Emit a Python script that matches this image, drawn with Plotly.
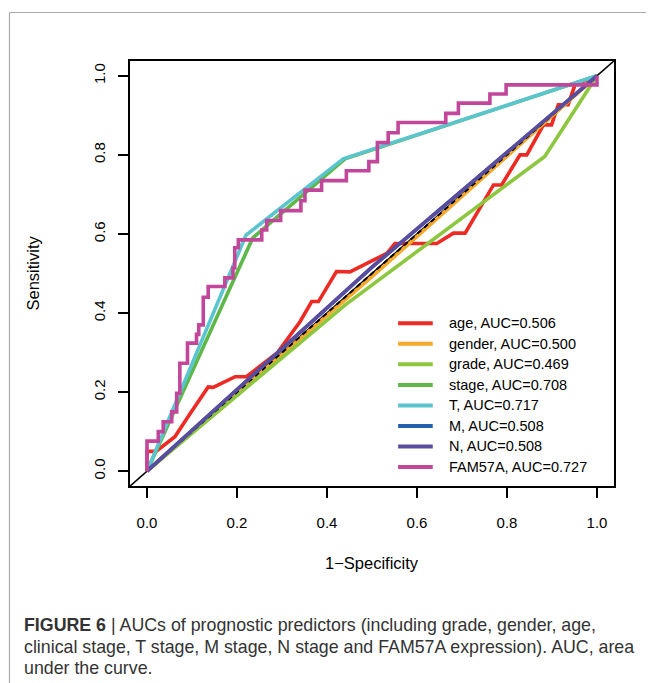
import plotly.graph_objects as go

# ---------------- data (1-specificity, sensitivity) ----------------
names = ["age", "gender", "grade", "stage", "T", "M", "N", "FAM57A"]
aucs = [0.506, 0.500, 0.469, 0.708, 0.717, 0.508, 0.508, 0.727]
colors = ["#EE2A24", "#F5A82A", "#8DC63F", "#5DB848", "#5BC5CF", "#2460AB", "#5A4C9E", "#C2479B"]

age_x = [0, 0, 0.02, 0.062, 0.096, 0.136, 0.147, 0.196, 0.221, 0.29, 0.34, 0.366, 0.381, 0.421,
         0.451, 0.488, 0.533, 0.551, 0.644, 0.681, 0.707, 0.77, 0.788, 0.829, 0.844, 0.881,
         0.899, 0.914, 0.936, 0.951, 1.0]
age_y = [0, 0.05, 0.05, 0.087, 0.146, 0.213, 0.212, 0.239, 0.239, 0.3, 0.378, 0.429, 0.429, 0.505,
         0.504, 0.526, 0.551, 0.576, 0.576, 0.602, 0.602, 0.724, 0.724, 0.8, 0.8, 0.876,
         0.876, 0.927, 0.927, 0.977, 1.0]

gender_x = [0, 0.5, 1.0]
gender_y = [0, 0.492, 1.0]

grade_x = [0, 0.44, 0.884, 1.0]
grade_y = [0, 0.42, 0.796, 1.0]

stage_x = [0, 0.235, 0.44, 1.0]
stage_y = [0, 0.59, 0.79, 1.0]

t_x = [0, 0.22, 0.436, 1.0]
t_y = [0, 0.597, 0.79, 1.0]

m_x = [0, 0.5, 1.0]
m_y = [0, 0.516, 1.0]

n_x = [0, 0.5, 1.0]
n_y = [0, 0.516, 1.0]

fam_x = [0, 0, 0.025, 0.025, 0.036, 0.036, 0.055, 0.055, 0.066, 0.066, 0.073, 0.073, 0.09, 0.09,
         0.11, 0.11, 0.115, 0.115, 0.125, 0.125, 0.136, 0.136, 0.173, 0.173, 0.191, 0.191,
         0.195, 0.195, 0.203, 0.203, 0.255, 0.255, 0.266, 0.266, 0.297, 0.297, 0.342, 0.342,
         0.351, 0.351, 0.388, 0.388, 0.443, 0.443, 0.493, 0.493, 0.512, 0.512, 0.536, 0.536,
         0.558, 0.558, 0.664, 0.664, 0.692, 0.692, 0.762, 0.762, 0.798, 0.798, 1.0, 1.0]
fam_y = [0, 0.076, 0.076, 0.10, 0.10, 0.125, 0.125, 0.15, 0.15, 0.197, 0.197, 0.273, 0.273, 0.324,
         0.324, 0.346, 0.346, 0.37, 0.37, 0.44, 0.44, 0.467, 0.467, 0.489, 0.489, 0.514,
         0.514, 0.565, 0.565, 0.585, 0.585, 0.61, 0.61, 0.634, 0.634, 0.659, 0.659, 0.684,
         0.684, 0.711, 0.711, 0.735, 0.735, 0.76, 0.76, 0.783, 0.783, 0.831, 0.831, 0.856,
         0.856, 0.882, 0.882, 0.905, 0.905, 0.931, 0.931, 0.954, 0.954, 0.977, 0.977, 1.0]

curves = [(age_x, age_y), (gender_x, gender_y), (grade_x, grade_y), (stage_x, stage_y),
          (t_x, t_y), (m_x, m_y), (n_x, n_y), (fam_x, fam_y)]

tick_vals = [0, 0.2, 0.4, 0.6, 0.8, 1.0]
tick_text = ["0.0", "0.2", "0.4", "0.6", "0.8", "1.0"]

caption_lines = [
    "<b>FIGURE 6</b> | AUCs of prognostic predictors (including grade, gender, age,",
    "clinical stage, T stage, M stage, N stage and FAM57A expression). AUC, area",
    "under the curve.",
]

# ---------------- figure ----------------
# the page body has an 8px margin, so the figure is laid out 8px smaller / shifted
OFF = 8
W, H = 654 - OFF, 683 - OFF
L, R, T, B = 129 - OFF, 615 - OFF, 60 - OFF, 487 - OFF
FONT = "Liberation Sans, Arial, sans-serif"

fig = go.Figure()

# reference diagonal (full range)
fig.add_trace(go.Scatter(x=[-0.04, 1.04], y=[-0.04, 1.04], mode="lines",
                         line=dict(color="black", width=1.6), showlegend=False, hoverinfo="skip"))

for i, (cx, cy) in enumerate(curves):
    if i == 5:  # dashed diagonal drawn before M / N
        fig.add_trace(go.Scatter(x=[0, 1], y=[0, 1], mode="lines",
                                 line=dict(color="black", width=2, dash="5px,4px"),
                                 showlegend=False, hoverinfo="skip"))
    fig.add_trace(go.Scatter(x=cx, y=cy, mode="lines", name=names[i],
                             line=dict(color=colors[i], width=3.6),
                             showlegend=False))

def px2paper_x(p):
    # p in window pixels
    return (p - OFF - L) / (R - L)

def px2paper_y(q):
    return (B - (q - OFF)) / (B - T)

shapes = []
annotations = []

# plot box
shapes.append(dict(type="rect", xref="paper", yref="paper", x0=0, x1=1, y0=0, y1=1,
                   line=dict(color="black", width=2)))

# figure frame (left and top lines)
shapes.append(dict(type="line", xref="paper", yref="paper",
                   x0=px2paper_x(9.5), x1=px2paper_x(9.5), y0=px2paper_y(12.5), y1=px2paper_y(690),
                   line=dict(color="#AAAAAA", width=1.2)))
shapes.append(dict(type="line", xref="paper", yref="paper",
                   x0=px2paper_x(9.5), x1=px2paper_x(660), y0=px2paper_y(12.5), y1=px2paper_y(12.5),
                   line=dict(color="#AAAAAA", width=1.2)))

# manual legend
leg_top = 0.374
leg_step = 0.0519
for i in range(len(names)):
    yv = leg_top - i * leg_step
    shapes.append(dict(type="line", xref="x", yref="y", x0=0.558, x1=0.635, y0=yv, y1=yv,
                       line=dict(color=colors[i], width=4)))
    annotations.append(dict(x=0.666, y=yv, xref="x", yref="y", xanchor="left", yanchor="middle",
                            text=f"{names[i]}, AUC={aucs[i]:.3f}", showarrow=False,
                            font=dict(family=FONT, size=14.5, color="black")))

# axis titles
annotations.append(dict(x=0.5, y=px2paper_y(563), xref="paper", yref="paper", xanchor="center",
                        yanchor="middle", text="1\u2212Specificity", showarrow=False,
                        font=dict(family=FONT, size=16.5, color="black")))
annotations.append(dict(x=px2paper_x(32), y=0.5, xref="paper", yref="paper", xanchor="center",
                        yanchor="middle", text="Sensitivity", showarrow=False, textangle=-90,
                        font=dict(family=FONT, size=16.5, color="black")))

# caption
cap_y = [625, 647, 668]
for line, yy in zip(caption_lines, cap_y):
    annotations.append(dict(x=px2paper_x(22), y=px2paper_y(yy), xref="paper", yref="paper",
                            xanchor="left", yanchor="middle", text=line, showarrow=False,
                            font=dict(family=FONT, size=17.8, color="#333333")))

fig.update_layout(
    width=W, height=H,
    margin=dict(l=L, r=W - R, t=T, b=H - B, pad=0),
    paper_bgcolor="white", plot_bgcolor="white",
    showlegend=False,
    shapes=shapes, annotations=annotations,
    font=dict(family=FONT, color="black"),
)
fig.update_xaxes(range=[-0.04, 1.04], tickvals=tick_vals, ticktext=tick_text, ticks="outside",
                 ticklen=10, tickwidth=2, tickcolor="black", showgrid=False, zeroline=False,
                 showline=False, tickfont=dict(family=FONT, size=15, color="black"),
                 ticklabelstandoff=12)
fig.update_yaxes(range=[-0.04, 1.04], tickvals=tick_vals, ticktext=tick_text, ticks="outside",
                 ticklen=10, tickwidth=2, tickcolor="black", showgrid=False, zeroline=False,
                 showline=False, tickangle=-90, tickfont=dict(family=FONT, size=15, color="black"),
                 ticklabelstandoff=7)

fig.write_html("out.html")
